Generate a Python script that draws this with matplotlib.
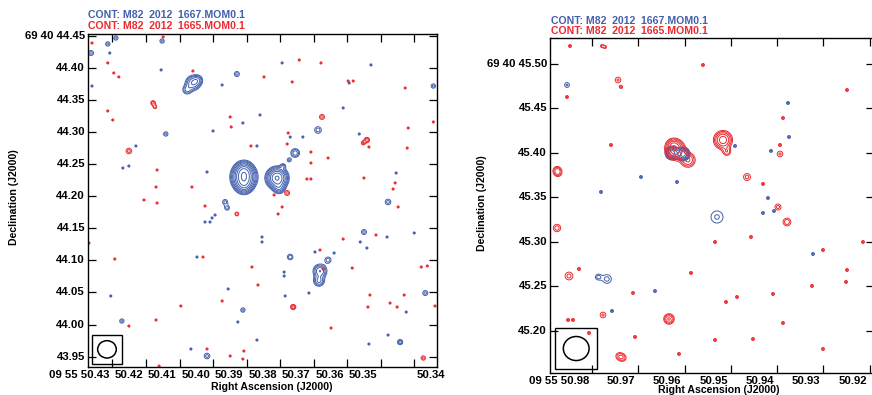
import numpy as np
import matplotlib
matplotlib.use('Agg')
from matplotlib import pyplot as plt
from matplotlib import transforms as mtransforms
from matplotlib.patches import Rectangle, Ellipse

plt.rcParams['font.family'] = ['Liberation Sans', 'DejaVu Sans']

BLUE = '#4360ad'
RED = '#ec2a30'

# ---------------- left panel: RA (s, 09h55m) / Dec (arcsec, +69d40') ----------------
# resolved components: ra, dec, peak (x lowest level), size (mas)
L_BLUE_RA = [50.3908, 50.3908, 50.3908, 50.3809, 50.3803, 50.3791, 50.3773, 50.3755,
             50.4060, 50.4078, 50.4045, 50.3681, 50.3684, 50.3770, 50.3657, 50.3687,
             50.3964, 50.3958, 50.3478, 50.3550, 50.4018, 50.3911, 50.3367, 50.4272,
             50.3929, 50.3343, 50.4141, 50.4364, 50.4314, 50.4290, 50.4152, 50.3442]
L_BLUE_DEC = [44.2298, 44.2407, 44.2173, 44.2282, 44.2127, 44.2469, 44.2563, 44.2672,
              44.3762, 44.3653, 44.3809, 44.0834, 44.0678, 44.1052, 44.1005, 44.3030,
              44.1909, 44.1815, 44.1909, 44.1441, 43.9510, 44.0226, 44.0491, 44.0055,
              44.3902, 44.3715, 44.2968, 44.4229, 44.4370, 44.4463, 44.4416, 43.9727]
L_BLUE_PEAK = [14, 6, 6, 12, 3, 1.6, 1.6, 2.5,
               4, 2, 2, 4, 3, 1.8, 1.7, 1.7,
               1.6, 1.6, 1.6, 1.6, 1.6, 1.6, 1.6, 1.6,
               1.6, 1.6, 1.6, 1.6, 1.6, 1.6, 1.6, 2.5]
L_BLUE_SIZE = [9.5, 7.5, 7.5, 8.5, 5.5, 3, 3, 5,
               7, 5, 5, 6.5, 5.5, 4, 4.5, 5,
               4, 3.5, 4.5, 4, 4.5, 3.5, 4, 3.5,
               4, 3.5, 3.5, 4, 3.5, 3.5, 3.5, 3]
# unresolved specks: ra, dec
L_BLUE_SPECK_RA = [50.4308, 50.4361, 50.4155, 50.3973, 50.3794, 50.3529, 50.3594, 50.3612,
                   50.3860, 50.3911, 50.4000, 50.3732, 50.3770, 50.3564, 50.4230, 50.4269,
                   50.4251, 50.4018, 50.3869, 50.3994, 50.4003, 50.4009, 50.4024, 50.3454,
                   50.3854, 50.3854, 50.3561, 50.3541, 50.3481, 50.3400, 50.3696, 50.4048,
                   50.3639, 50.3788, 50.3788, 50.3955, 50.3785, 50.3714, 50.4305, 50.3424,
                   50.3926, 50.3869, 50.3478, 50.3535, 50.4066]
L_BLUE_SPECK_DEC = [44.4229, 44.3715, 44.3965, 44.3731, 44.4074, 44.4043, 44.3762, 44.3373,
                    44.3264, 44.3139, 44.3015, 44.2921, 44.2921, 44.2968, 44.2781, 44.2438,
                    44.2469, 44.2376, 44.2781, 44.1706, 44.1660, 44.1597, 44.1597, 44.2360,
                    44.1286, 44.1363, 44.1286, 44.1192, 44.1363, 44.1426, 44.1130, 44.1052,
                    44.1114, 44.0818, 44.0756, 44.0554, 44.0445, 44.0491, 44.0445, 44.0195,
                    44.0040, 43.9759, 43.9837, 43.9697, 43.9619]

L_RED_RA = [50.4179, 50.4173, 50.3675, 50.4251, 50.3541, 50.3552, 50.3761, 50.3779,
            50.3373, 50.3929]
L_RED_DEC = [44.3451, 44.3388, 44.3233, 44.2703, 44.2874, 44.2828, 44.0273, 44.2049,
             43.9479, 44.1722]
L_RED_PEAK = [2, 1.7, 1.6, 1.6, 2.5, 2, 2.5, 1.6, 1.6, 2]
L_RED_SIZE = [3, 2.5, 4, 4.5, 3, 2.5, 3, 4, 3.5, 2.5]
L_RED_SPECK_RA = [50.4361, 50.4314, 50.4296, 50.4281, 50.4060, 50.4314, 50.4299, 50.4149,
                  50.3949, 50.3848, 50.3764, 50.3743, 50.3678, 50.3597, 50.3582, 50.3427,
                  50.3343, 50.3946, 50.3418, 50.3887, 50.3776, 50.3779, 50.3708, 50.3708,
                  50.3657, 50.3535, 50.3421, 50.4167, 50.4170, 50.4206, 50.4167, 50.4063,
                  50.4024, 50.3806, 50.3794, 50.3818, 50.3720, 50.3708, 50.3550, 50.3457,
                  50.3463, 50.3448, 50.4370, 50.3612, 50.3514, 50.3681, 50.4030, 50.4293,
                  50.3884, 50.3672, 50.3585, 50.3379, 50.3361, 50.3866, 50.3973, 50.4096,
                  50.3532, 50.3538, 50.3472, 50.3451, 50.3430, 50.3338, 50.4170, 50.4251,
                  50.3648, 50.4018, 50.3949, 50.3908, 50.3911, 50.4161]
L_RED_SPECK_DEC = [44.4385, 44.4074, 44.3918, 44.3856, 44.3949, 44.3326, 44.3186, 44.4479,
                   44.3233, 44.3856, 44.3778, 44.4120, 44.4074, 44.3793, 44.3793, 44.3684,
                   44.3155, 44.3077, 44.3061, 44.2781, 44.2983, 44.2812, 44.2687, 44.2516,
                   44.2594, 44.2765, 44.2749, 44.2407, 44.2142, 44.1940, 44.1893, 44.2142,
                   44.1846, 44.1722, 44.1831, 44.2018, 44.2267, 44.2267, 44.2282, 44.2205,
                   44.2111, 44.1831, 44.1270, 44.1332, 44.1395, 44.1161, 44.1052, 44.1021,
                   44.0896, 44.0865, 44.0880, 44.0896, 44.0912, 44.0616, 44.0367, 44.0289,
                   44.0460, 44.0273, 44.0335, 44.0273, 44.0460, 44.0289, 44.0071, 43.9977,
                   43.9946, 43.9619, 43.9510, 43.9588, 43.9463, 43.9354]

# ---------------- right panel ----------------
R_BLUE_RA = [50.96272, 50.96034, 50.95300, 50.97870, 50.97676, 50.98540]
R_BLUE_DEC = [45.4000, 45.3989, 45.3281, 45.2607, 45.2584, 45.4764]
R_BLUE_PEAK = [7, 7, 1.5, 1.5, 1.6, 1.5]
R_BLUE_SIZE = [4, 4, 7.5, 3, 5, 3]
R_BLUE_SPECK_RA = [50.93767, 50.94911, 50.93745, 50.94134, 50.96942, 50.96164, 50.97806,
                   50.94199, 50.94307, 50.94069, 50.93227, 50.96639, 50.97568]
R_BLUE_SPECK_DEC = [45.4562, 45.4079, 45.4180, 45.4023, 45.3730, 45.3674, 45.3562,
                    45.3494, 45.3326, 45.3348, 45.2865, 45.2449, 45.2225]

R_RED_RA = [50.96200, 50.96250, 50.95927, 50.95171, 50.95085, 50.96337, 50.94652, 50.93939,
            50.93983, 50.93789, 50.98756, 50.98735, 50.98756, 50.98497, 50.97762, 50.97417,
            50.97331, 50.97438]
R_RED_DEC = [45.4034, 45.4090, 45.3921, 45.4146, 45.4011, 45.2135, 45.3730, 45.3989,
             45.3393, 45.3225, 45.3809, 45.3775, 45.3157, 45.2618, 45.2180, 45.1719,
             45.1697, 45.4820]
R_RED_PEAK = [5, 2, 3, 5, 1.7, 3, 1.6, 1.5, 1.6, 1.8, 1.6, 1.6, 1.7, 1.6, 1.5, 1.5, 1.5, 1.5]
R_RED_SIZE = [6.5, 4.5, 5.5, 6, 3.5, 4, 4, 3.5, 3.5, 4, 3.5, 3.5, 4, 4.5, 3.5, 3.5, 3.5, 3.5]
R_RED_SPECK_RA = [50.98475, 50.97784, 50.97719, 50.97374, 50.98540, 50.95603, 50.92492,
                  50.93875, 50.97590, 50.93939, 50.94307, 50.94566, 50.95343, 50.93011,
                  50.92147, 50.98281, 50.95862, 50.97114, 50.95106, 50.94868, 50.94091,
                  50.93248, 50.92514, 50.92492, 50.98518, 50.98410, 50.93875, 50.98065,
                  50.97071, 50.95343, 50.94523, 50.93011, 50.96121]
R_RED_SPECK_DEC = [45.5202, 45.5202, 45.5191, 45.4742, 45.4629, 45.4989, 45.4708,
                   45.4393, 45.4090, 45.4090, 45.3652, 45.3056, 45.3000, 45.2910,
                   45.3000, 45.2697, 45.2652, 45.2427, 45.2326, 45.2382, 45.2416,
                   45.2506, 45.2551, 45.2685, 45.2124, 45.2124, 45.2090, 45.1978,
                   45.1933, 45.1899, 45.1910, 45.1798, 45.1742]

L_XTICKS = [50.43, 50.42, 50.41, 50.40, 50.39, 50.38, 50.37, 50.36, 50.35, 50.34]
L_XLABELS = ['09 55 50.43', '50.42', '50.41', '50.40', '50.39', '50.38', '50.37', '50.36', '50.35', '50.34']
L_YTICKS = [43.95, 44.00, 44.05, 44.10, 44.15, 44.20, 44.25, 44.30, 44.35, 44.40, 44.45]
L_YLABELS = ['43.95', '44.00', '44.05', '44.10', '44.15', '44.20', '44.25', '44.30', '44.35', '44.40', '69 40 44.45']
R_XTICKS = [50.98, 50.97, 50.96, 50.95, 50.94, 50.93, 50.92]
R_XLABELS = ['09 55 50.98', '50.97', '50.96', '50.95', '50.94', '50.93', '50.92']
R_YTICKS = [45.20, 45.25, 45.30, 45.35, 45.40, 45.45, 45.50]
R_YLABELS = ['45.20', '45.25', '45.30', '45.35', '45.40', '45.45', '69 40 45.50']

TITLE_BLUE = 'CONT: M82  2012  1667.MOM0.1'
TITLE_RED = 'CONT: M82  2012  1665.MOM0.1'

BEAM_MAJ, BEAM_MIN = 29.0, 27.0      # mas
BOX_W, BOX_H = 47.0, 45.0            # mas

COS_DEC = np.cos(np.deg2rad(69 + 40 / 60.0))
MAS_PER_S = 15 * COS_DEC * 1000.0
LEVELS = 2 ** (np.arange(0, 12) / 2.0)
SPECK_PEAK, SPECK_SIZE = 1.8, 1.5


def field(X, Y, ra, dec, peak, size):
    z = np.zeros_like(X)
    for r, d, p, s in zip(ra, dec, peak, size):
        dx = (X - r) * MAS_PER_S
        dy = (Y - d) * 1000.0
        z += p * np.exp(-(dx ** 2 + dy ** 2) / (2 * s ** 2))
    return z


def panel(ax, xlim, ylim, blue, red, xt, xl, yt, yl, last_left=False):
    ax.set_xlim(*xlim)
    ax.set_ylim(*ylim)
    X, Y = np.meshgrid(np.linspace(xlim[0], xlim[1], 900), np.linspace(ylim[0], ylim[1], 900))
    for comps, specks, col in ((blue[:4], blue[4:], BLUE), (red[:4], red[4:], RED)):
        n = len(specks[0])
        z = field(X, Y, *comps) + field(X, Y, specks[0], specks[1], [SPECK_PEAK] * n, [SPECK_SIZE] * n)
        ax.contour(X, Y, z, levels=LEVELS, colors=col, linewidths=0.7)

    # beam box in lower left corner
    x0 = xlim[0] - 6 / MAS_PER_S
    y0 = ylim[0] + 0.005
    ax.add_patch(Rectangle((x0 - BOX_W / MAS_PER_S, y0), BOX_W / MAS_PER_S, BOX_H / 1000.0,
                           fill=False, ec='black', lw=1.0, zorder=5))
    ax.add_patch(Ellipse((x0 - BOX_W / 2 / MAS_PER_S, y0 + BOX_H / 2000.0),
                         BEAM_MAJ / MAS_PER_S, BEAM_MIN / 1000.0,
                         fill=False, ec='black', lw=1.1, zorder=5))

    ax.set_xticks(xt)
    ax.set_yticks(yt)
    ax.set_xticklabels([])
    ax.set_yticklabels([])
    ax.tick_params(direction='in', length=6, width=0.9, top=True, right=True, color='black')
    for sp in ax.spines.values():
        sp.set_linewidth(1.0)

    fig = ax.figure
    tx = mtransforms.offset_copy(ax.get_xaxis_transform(), fig=fig, x=-3, y=-3, units='dots')
    tx2 = mtransforms.offset_copy(ax.get_xaxis_transform(), fig=fig, x=2, y=-3, units='dots')
    for i, (v, s) in enumerate(zip(xt, xl)):
        if last_left and i == len(xt) - 1:
            ax.text(v, 0, s, transform=tx2, ha='left', va='top', fontsize=8.2, fontweight='bold')
        else:
            ax.text(v, 0, s, transform=tx, ha='right', va='top', fontsize=8.2, fontweight='bold')
    ty = mtransforms.offset_copy(ax.get_yaxis_transform(), fig=fig, x=-3, y=0, units='dots')
    for v, s in zip(yt, yl):
        ax.text(0, v, s, transform=ty, ha='right', va='center', fontsize=8.2, fontweight='bold')


W, H = 872, 395
fig = plt.figure(figsize=(W / 100, H / 100), dpi=100)

ax1 = fig.add_axes([88 / W, 28 / H, 349 / W, 333 / H])
panel(ax1, (50.4373, 50.3332), (43.9339, 44.4525),
      (L_BLUE_RA, L_BLUE_DEC, L_BLUE_PEAK, L_BLUE_SIZE, L_BLUE_SPECK_RA, L_BLUE_SPECK_DEC),
      (L_RED_RA, L_RED_DEC, L_RED_PEAK, L_RED_SIZE, L_RED_SPECK_RA, L_RED_SPECK_DEC),
      L_XTICKS, L_XLABELS, L_YTICKS, L_YLABELS, last_left=True)

ax2 = fig.add_axes([550 / W, 22 / H, 324 / W, 335 / H])
panel(ax2, (50.98907, 50.91909), (45.1528, 45.5292),
      (R_BLUE_RA, R_BLUE_DEC, R_BLUE_PEAK, R_BLUE_SIZE, R_BLUE_SPECK_RA, R_BLUE_SPECK_DEC),
      (R_RED_RA, R_RED_DEC, R_RED_PEAK, R_RED_SIZE, R_RED_SPECK_RA, R_RED_SPECK_DEC),
      R_XTICKS, R_XLABELS, R_YTICKS, R_YLABELS)

# titles and axis labels
for x0, yb, yr in ((88, 15.5, 25.8), (551, 21.5, 31.5)):
    fig.text(x0 / W, 1 - yb / H, TITLE_BLUE, color=BLUE, fontsize=7.6, fontweight='bold', va='center')
    fig.text(x0 / W, 1 - yr / H, TITLE_RED, color=RED, fontsize=7.6, fontweight='bold', va='center')

fig.text(272 / W, 1 - 387.5 / H, 'Right Ascension (J2000)', ha='center', va='center', fontsize=7.6, fontweight='bold')
fig.text(719 / W, 1 - 390 / H, 'Right Ascension (J2000)', ha='center', va='center', fontsize=7.6, fontweight='bold')
fig.text(14 / W, 1 - 197 / H, 'Declination (J2000)', rotation=90, ha='center', va='center', fontsize=7.6, fontweight='bold')
fig.text(482 / W, 1 - 203 / H, 'Declination (J2000)', rotation=90, ha='center', va='center', fontsize=7.6, fontweight='bold')

fig.savefig('out.png', dpi=100)
